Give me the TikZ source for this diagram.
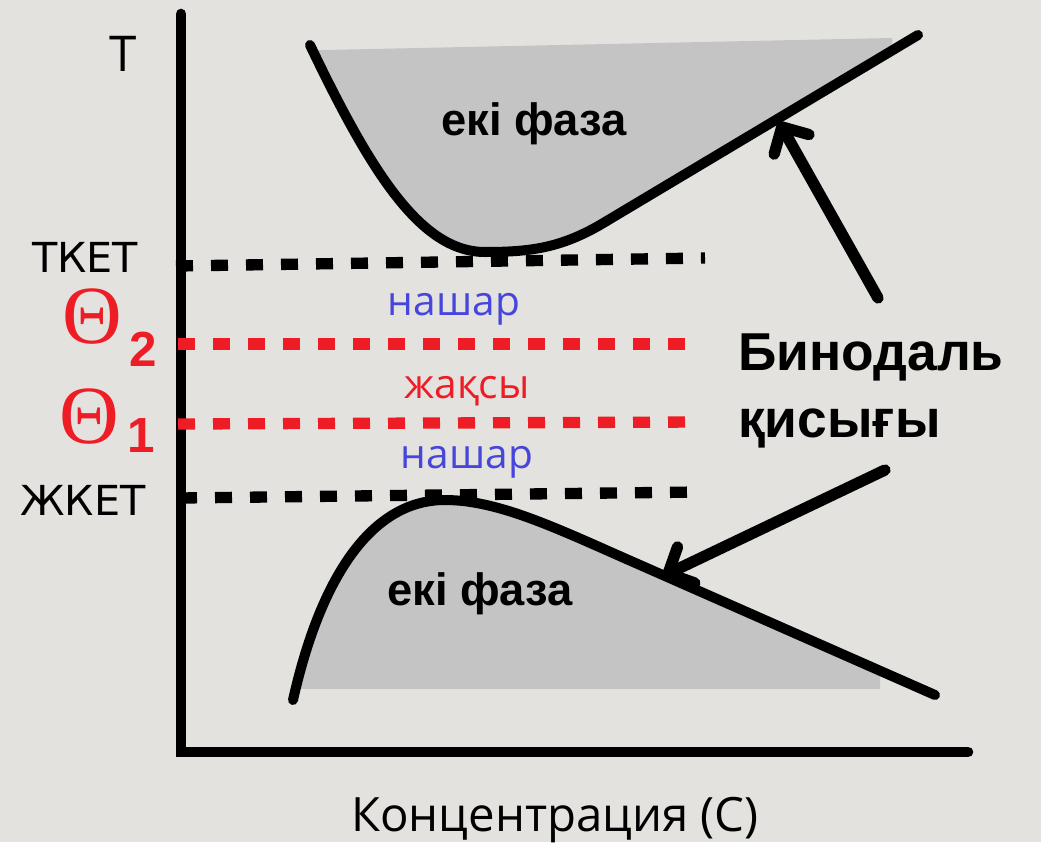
\documentclass[tikz,border=0pt]{standalone}
\usepackage{fontspec}
\setmainfont{Open Sans}
\newfontfamily\headfont{Liberation Sans}
\newfontfamily\thetafont{Liberation Serif}
\newfontfamily\levelfont{DejaVu Sans}
\usetikzlibrary{arrows.meta}

\definecolor{bg}{HTML}{E4E2DE}
\definecolor{phase}{HTML}{C4C4C4}
\definecolor{hot}{HTML}{EE1C25}
\definecolor{weak}{HTML}{4646DC}

\tikzset{
  axis/.style={line width=8pt, line cap=round, line join=miter},
  binodal/.style={line width=7.5pt, line cap=round, line join=round},
  level/.style={line width=8.5pt, dash pattern=on 12.75pt off 13.5pt},
  pointer/.style={line width=8.5pt, line cap=round,
    -{Straight Barb[length=15pt,width=30pt,line cap=round,line join=round]}},
  axislabel/.style={font=\fontsize{37}{40}\selectfont, inner sep=0pt},
  conclabel/.style={font=\fontsize{35.5}{38}\selectfont, inner sep=0pt},
  levellabel/.style={font=\levelfont\fontsize{31}{34}\selectfont, inner sep=0pt},
  zone/.style={font=\fontsize{30.5}{32}\selectfont, inner sep=0pt},
  phaselabel/.style={font=\headfont\bfseries\fontsize{34}{36}\selectfont, inner sep=0pt},
  thetalabel/.style={text=hot, font=\thetafont\fontsize{62}{64}\selectfont, inner sep=0pt},
  indexlabel/.style={text=hot, font=\headfont\bfseries\fontsize{37}{40}\selectfont, inner sep=0pt},
  callout/.style={font=\headfont\bfseries\fontsize{40}{44}\selectfont, inner sep=0pt}
}

\begin{document}
\begin{tikzpicture}[x=0.75pt,y=-0.75pt]
\fill[bg] (0,0) rectangle (1041,842);
\useasboundingbox (0,0) rectangle (1041,842);

% two-phase regions
\begin{scope}
  \clip (300,50.5) -- (892,38) -- (892,300) -- (300,300) -- cycle;
  \fill[phase] (310,45) .. controls (370,170) and (420,252) .. (485,252)
    .. controls (530,252) and (560,248) .. (600,225) -- (918,35) -- (918,0) -- (310,0) -- cycle;
\end{scope}
\begin{scope}
  \clip (298,400) rectangle (880,688);
  \fill[phase] (293,700) .. controls (320,580) and (370,500) .. (445,500)
    .. controls (500,500) and (560,530) .. (640,565) -- (935,695) -- cycle;
\end{scope}

% axes
\coordinate (ytop) at (181,14);
\coordinate (origin) at (181,752);
\coordinate (xend) at (968,752);
\draw[axis] (ytop) -- (origin) -- (xend);

% temperature levels
\coordinate (tket-l) at (176,266);  \coordinate (tket-r) at (705,258);
\coordinate (th2-l) at (178,344);   \coordinate (th2-r) at (695,344);
\coordinate (th1-l) at (178,424);   \coordinate (th1-r) at (698,422);
\coordinate (zhket-l) at (180,498); \coordinate (zhket-r) at (700,492);
\draw[level] (tket-l) -- (tket-r);
\draw[level, hot] (th2-l) -- (th2-r);
\draw[level, hot] (th1-l) -- (th1-r);
\draw[level] (zhket-l) -- (zhket-r);

% binodal curves
\draw[binodal] (310,45) .. controls (370,170) and (420,252) .. (485,252)
  .. controls (530,252) and (560,248) .. (600,225) -- (918,35);
\draw[binodal] (293,700) .. controls (320,580) and (370,500) .. (445,500)
  .. controls (500,500) and (560,530) .. (640,565) -- (935,695);

% labels on the axes
\node[axislabel, anchor=base] (tlab) at (123,72) {T};
\node[levellabel, anchor=base west] (tket) at (32,272) {ТКЕТ};
\node[levellabel, anchor=base west] (zhket) at (20,515) {ЖКЕТ};
\node[thetalabel, anchor=base] (theta2) at (92,343) {Θ};
\node[indexlabel, anchor=base west] (idx2) at (129,366) {2};
\node[thetalabel, anchor=base] (theta1) at (89,443) {Θ};
\node[indexlabel, anchor=base west] (idx1) at (127,452) {1};
\node[conclabel, anchor=base] (xlab) at (555,831) {Концентрация (С)};

% zones between the levels
\node[zone, text=weak, anchor=base] (poor1) at (454,315) {нашар};
\node[zone, text=hot, anchor=base] (good) at (467,398) {жақсы};
\node[zone, text=weak, anchor=base] (poor2) at (467,468) {нашар};

% phase labels
\node[phaselabel, anchor=base] (phase1) at (534,135) {екі фаза};
\node[phaselabel, anchor=base] (phase2) at (480,605) {екі фаза};

% binodal callout
\node[callout, anchor=base west] (bin1) at (738,370) {Бинодаль};
\node[callout, anchor=base west] (bin2) at (738,437) {қисығы};
\coordinate (tail1) at (878,298); \coordinate (tip1) at (779,122);
\coordinate (tail2) at (885,470); \coordinate (tip2) at (663,576);
\draw[pointer] (tail1) -- (tip1);
\draw[pointer] (tail2) -- (tip2);
\end{tikzpicture}
\end{document}
